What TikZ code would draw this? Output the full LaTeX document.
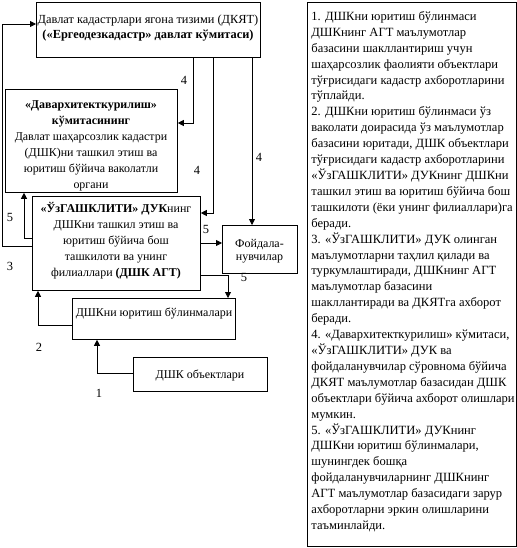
\documentclass[tikz,border=0pt]{standalone}
\usepackage{fontspec}
\setmainfont{Liberation Serif}
\usetikzlibrary{arrows.meta}
\begin{document}
\begin{tikzpicture}[x=1bp,y=-1bp,
  line width=0.8bp,
  box/.style={draw, line width=0.8bp, inner sep=0, anchor=north west},
  arr/.style={-{Triangle[length=6bp,width=6bp]}, line width=0.8bp},
  lbl/.style={font=\fontsize{12.5}{16}\selectfont, inner sep=0},
  txt/.style={font=\fontsize{12}{16}\selectfont, align=center, inner sep=0}]
\useasboundingbox (0,0) rectangle (517,548);
% boxes
\node[box, minimum width=224bp, minimum height=55bp] (b1) at (36,2) {};
\node[box, minimum width=172bp, minimum height=103bp] (b2) at (5,89) {};
\node[box, minimum width=168bp, minimum height=94bp] (b3) at (32,196) {};
\node[box, minimum width=75bp, minimum height=48bp] (f) at (222,225) {};
\node[box, minimum width=163bp, minimum height=41bp] (b4) at (72,298) {};
\node[box, minimum width=134bp, minimum height=34bp] (b5) at (133,357) {};
\node[box, minimum width=209bp, minimum height=544bp] (r) at (307,2) {};
% box texts
\node[txt, font=\fontsize{12.4}{15}\selectfont] (t1) at (148,28) {Давлат кадастрлари ягона тизими (ДКЯТ)\\\textbf{(«Ергеодезкадастр» давлат кўмитаси)}};
\node[txt] (t2) at (91,146) {\textbf{«Давархитекткурилиш»}\\\textbf{кўмитасининг}\\Давлат шаҳарсозлик кадастри\\(ДШК)ни ташкил этиш ва\\юритиш бўйича ваколатли\\органи};
\node[txt] (t3) at (116,241) {\textbf{«ЎзГАШКЛИТИ» ДУК}нинг\\ДШКни ташкил этиш ва\\юритиш бўйича бош\\ташкилоти ва унинг\\филиаллари \textbf{(ДШК АГТ)}};
\node[txt, font=\fontsize{12}{13}\selectfont] (tf) at (259.5,251) {Фойдала-\\нувчилар};
\node[txt] (t4) at (154,314) {ДШКни юритиш бўлинмалари};
\node[txt] (t5) at (200,375) {ДШК объектлари};
\node[txt, font=\fontsize{12.6}{15.97}\selectfont, align=left, anchor=north west] (tr) at (311,11) {1. ДШКни юритиш бўлинмаси\\
ДШКнинг АГТ маълумотлар\\
базасини шакллантириш учун\\
шаҳарсозлик фаолияти объектлари\\
тўғрисидаги кадастр ахборотларини\\
тўплайди.\\
2. ДШКни юритиш бўлинмаси ўз\\
ваколати доирасида ўз маълумотлар\\
базасини юритади, ДШК объектлари\\
тўғрисидаги кадастр ахборотларини\\
«ЎзГАШКЛИТИ» ДУКнинг ДШКни\\
ташкил этиш ва юритиш бўйича бош\\
ташкилоти (ёки унинг филиаллари)га\\
беради.\\
3. «ЎзГАШКЛИТИ» ДУК олинган\\
маълумотларни таҳлил қилади ва\\
туркумлаштиради, ДШКнинг АГТ\\
маълумотлар базасини\\
шакллантиради ва ДКЯТга ахборот\\
беради.\\
4. «Давархитекткурилиш» кўмитаси,\\
«ЎзГАШКЛИТИ» ДУК ва\\
фойдаланувчилар сўровнома бўйича\\
ДКЯТ маълумотлар базасидан ДШК\\
объектлари бўйича ахборот олишлари\\
мумкин.\\
5. «ЎзГАШКЛИТИ» ДУКнинг\\
ДШКни юритиш бўлинмалари,\\
шунингдек бошқа\\
фойдаланувчиларнинг ДШКнинг\\
АГТ маълумотлар базасидаги зарур\\
ахборотларни эркин олишларини\\
таъминлайди.};
% connectors
\draw[arr] (b1.south -| 193,0) |- (b2.east |- 0,123);
\draw[arr] (b1.south -| 213,0) |- (b3.east |- 0,213);
\draw[arr] (b1.south -| 252,0) -- (f.north -| 252,0);
\draw[arr] (b3.east |- 0,243) -- (f.west |- 0,243);
\draw[arr] (b3.east |- 0,275) -| (b4.north -| 228,0);
\draw[arr] (b3.west |- 0,238) -| (b2.south -| 24,0);
\draw[arr] (b3.west |- 0,246) -- ++(-30,0) |- (b1.west |- 0,24);
\draw[arr] (b4.west |- 0,325) -| (b3.south -| 38,0);
\draw[arr] (b5.west |- 0,373) -| (b4.south -| 97,0);
% labels
\node[lbl] (l4a) at (184,80) {4};
\node[lbl] (l4b) at (197,170) {4};
\node[lbl] (l4c) at (259,157) {4};
\node[lbl] (l5a) at (206,229) {5};
\node[lbl] (l5b) at (244,277) {5};
\node[lbl] (l5c) at (10,217) {5};
\node[lbl] (l3) at (10,266) {3};
\node[lbl] (l2) at (39,347) {2};
\node[lbl] (l1) at (99,393) {1};
\end{tikzpicture}
\end{document}
